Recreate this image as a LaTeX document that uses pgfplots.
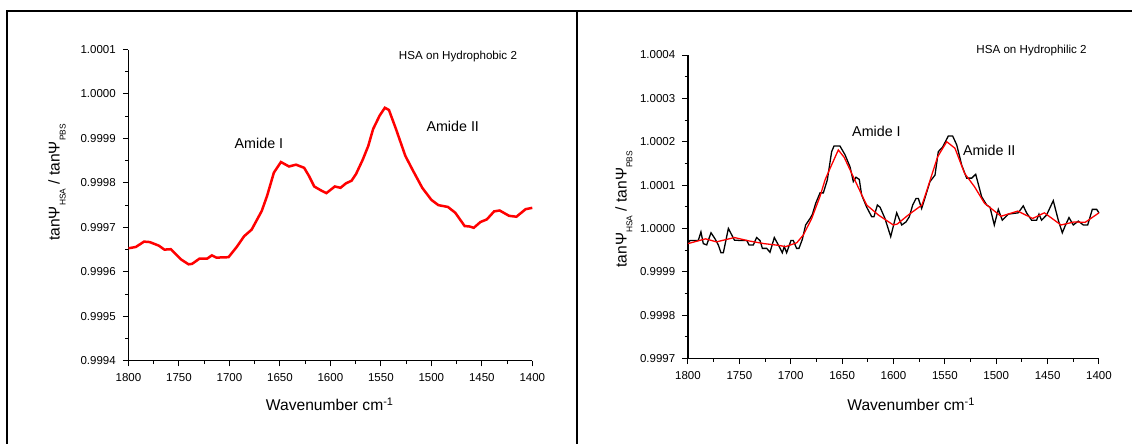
\documentclass[border=0pt]{standalone}
\usepackage{fontspec}
\setmainfont{Liberation Sans}
\usepackage{pgfplots}
\usepackage{pgfplotstable}
\pgfplotsset{compat=1.18}

% HSA on hydrophobic surface (smoothed)
\pgfplotstableread{
wn val
1800 0.999653
1792.7 0.999656
1784.6 0.999668
1779 0.999667
1770 0.999659
1764.4 0.999650
1758 0.999651
1748 0.999628
1740.5 0.999617
1737 0.999618
1729.5 0.999630
1722 0.999630
1717.4 0.999637
1713 0.999632
1700.9 0.999633
1692.8 0.999656
1685.5 0.999680
1678 0.999695
1668 0.999737
1662.7 0.999771
1656 0.999823
1649 0.999847
1641 0.999837
1634 0.999841
1626 0.999834
1621.3 0.999816
1616 0.999792
1608.4 0.999782
1604 0.999777
1595.6 0.999792
1590 0.999789
1584.6 0.999799
1579 0.999805
1574.6 0.999820
1568 0.999852
1562.5 0.999883
1557.7 0.999921
1551.3 0.999951
1546 0.999969
1542 0.999964
1535 0.999921
1525.8 0.999861
1518.5 0.999829
1509 0.999789
1500 0.999762
1493 0.999750
1483.6 0.999746
1476.3 0.999733
1467 0.999703
1462 0.999702
1458 0.999699
1451.4 0.999712
1445 0.999718
1437.8 0.999736
1432.3 0.999738
1423 0.999726
1415.7 0.999724
1406.6 0.999741
1400 0.999744
}\phobic

% HSA on hydrophilic surface, raw
\pgfplotstableread{
wn val
1800 0.999966
1798.1 0.999972
1790 0.999972
1787.4 0.999992
1785.1 0.999965
1781.8 0.999962
1777.6 0.999990
1773.7 0.999976
1770.5 0.999962
1767.9 0.999944
1765.6 0.999944
1760.7 1.000000
1754.8 0.999973
1747.7 0.999972
1742.8 0.999972
1740.6 0.999962
1736.4 0.999962
1733.2 0.999979
1729.9 0.999972
1727.6 0.999954
1723.4 0.999954
1720.2 0.999945
1716 0.999979
1711.4 0.999959
1708.2 0.999944
1706.3 0.999958
1704 0.999944
1699.8 0.999972
1697.5 0.999972
1694.3 0.999954
1692 0.999954
1688.7 0.999975
1685.5 1.000008
1681.2 1.000023
1679 1.000032
1675.7 1.000058
1671.5 1.000082
1668.3 1.000082
1664.4 1.000112
1660.2 1.000177
1657.9 1.000190
1652.1 1.000190
1647.2 1.000170
1642.3 1.000142
1639.1 1.000108
1636.5 1.000118
1633.3 1.000113
1631 1.000077
1626.1 1.000049
1621.2 1.000027
1619 1.000027
1615.7 1.000054
1613.1 1.000049
1608.3 1.000023
1602.7 0.999981
1596.9 1.000036
1592 1.000008
1587.8 1.000015
1584.6 1.000027
1581.3 1.000054
1578.1 1.000069
1575.8 1.000069
1572.6 1.000046
1569.3 1.000071
1564.5 1.000108
1559.6 1.000123
1556.4 1.000177
1552.1 1.000188
1546.7 1.000213
1542.4 1.000213
1538.5 1.000193
1533.6 1.000146
1528.8 1.000116
1523.9 1.000116
1520 1.000125
1514.2 1.000073
1509.3 1.000054
1506.1 1.000049
1501.9 1.000008
1498 1.000044
1494.1 1.000019
1488.3 1.000033
1478.6 1.000036
1473.7 1.000052
1470.5 1.000036
1465.6 1.000019
1460.7 1.000019
1458.4 1.000033
1455.9 1.000019
1451 1.000031
1444.5 1.000064
1439.6 1.000019
1435.7 0.999990
1433.1 1.000005
1429.2 1.000025
1425 1.000008
1420.1 1.000017
1415.3 1.000008
1411 1.000008
1406.5 1.000044
1402.3 1.000044
1400 1.000036
}\philraw

% HSA on hydrophilic surface, smoothed
\pgfplotstableread{
wn val
1800 0.999965
1782.9 0.999976
1772.3 0.999969
1754.8 0.999979
1740.3 0.999971
1726.1 0.999965
1711.9 0.999961
1705 0.999958
1694.1 0.999967
1687.7 0.999985
1679.6 1.000023
1671.5 1.000074
1666.6 1.000112
1662.2 1.000136
1653.7 1.000181
1648 1.000164
1639.1 1.000119
1630.2 1.000074
1626.1 1.000054
1614.7 1.000031
1600.2 1.000008
1596.4 1.000010
1585.6 1.000031
1572.3 1.000054
1567.9 1.000085
1557.1 1.000165
1548.2 1.000200
1540.2 1.000185
1530.8 1.000127
1521.1 1.000096
1511.4 1.000058
1501.7 1.000040
1495.3 1.000028
1479.1 1.000040
1464.5 1.000023
1453.2 1.000036
1437 1.000008
1424 1.000015
1413.5 1.000014
1400 1.000036
}\philsmooth

\newcommand{\sub}[1]{\raisebox{-0.7ex}{\fontsize{4.2}{5}\selectfont #1}}

\pgfplotsset{
  panel/.style={
    scale only axis, anchor=south west,
    x dir=reverse, xmin=1400, xmax=1800,
    xtick={1400,1450,...,1800}, minor x tick num=1, minor y tick num=1,
    axis x line=bottom, axis y line=left,
    axis line style={-, line width=0.6pt},
    tick align=outside, major tick length=2.85pt, minor tick length=1.65pt,
    every tick/.style={black, line width=0.5pt},
    tick label style={font=\fontsize{5.75}{6}\selectfont},
    /pgf/number format/assume math mode=true,
    /pgf/number format/1000 sep={},
    label style={font=\fontsize{7.8}{9}\selectfont},
    xlabel={Wavenumber cm\textsuperscript{-1}},
    ylabel={tanΨ\sub{HSA} / tanΨ\sub{PBS}},
    clip=false,
  },
}
\tikzset{
  amide/.style={font=\fontsize{7.15}{8}\selectfont},
  tag/.style={font=\fontsize{5.8}{7}\selectfont},
}

\begin{document}
\begin{tikzpicture}
\useasboundingbox (0,0) rectangle (566pt,-222pt);
\draw[line width=1pt] (3.65pt,-222pt) -- (3.65pt,-5.5pt) -- (566pt,-5.5pt);
\draw[line width=1pt] (288.35pt,-5.5pt) -- (288.35pt,-222pt);

\begin{axis}[panel, at={(64.25pt,-180.4pt)}, width=201.9pt, height=155.65pt,
  ymin=0.9994, ymax=1.0001,
  ytick={0.9994,0.9995,0.9996,0.9997,0.9998,0.9999,1.0000,1.0001},
  yticklabels={0.9994,0.9995,0.9996,0.9997,0.9998,0.9999,1.0000,1.0001},
  xlabel style={at={(axis description cs:0.499,-0.14)}, anchor=center},
  ylabel style={at={(axis description cs:-0.177,0.573)}, anchor=center}]
\addplot[red, line width=1.25pt] table[x=wn, y=val] {\phobic};
\node[tag] at (axis description cs:0.816,0.977) {HSA on Hydrophobic 2};
\node[amide] at (axis description cs:0.323,0.700) {Amide I};
\node[amide] at (axis description cs:0.803,0.752) {Amide II};
\end{axis}

\begin{axis}[panel, at={(344pt,-179.25pt)}, width=205.5pt, height=151.75pt,
  ymin=0.9997, ymax=1.0004,
  ytick={0.9997,0.9998,0.9999,1.0000,1.0001,1.0002,1.0003,1.0004},
  yticklabels={0.9997,0.9998,0.9999,1.0000,1.0001,1.0002,1.0003,1.0004},
  xlabel style={at={(axis description cs:0.5435,-0.151)}, anchor=center},
  ylabel style={at={(axis description cs:-0.156,0.492)}, anchor=center}]
\addplot[black, line width=0.65pt] table[x=wn, y=val] {\philraw};
\addplot[red, line width=0.65pt] table[x=wn, y=val] {\philsmooth};
\node[tag] at (axis description cs:0.836,1.016) {HSA on Hydrophilic 2};
\node[amide] at (axis description cs:0.4586,0.7496) {Amide I};
\node[amide] at (axis description cs:0.733,0.687) {Amide II};
\end{axis}
\end{tikzpicture}
\end{document}
